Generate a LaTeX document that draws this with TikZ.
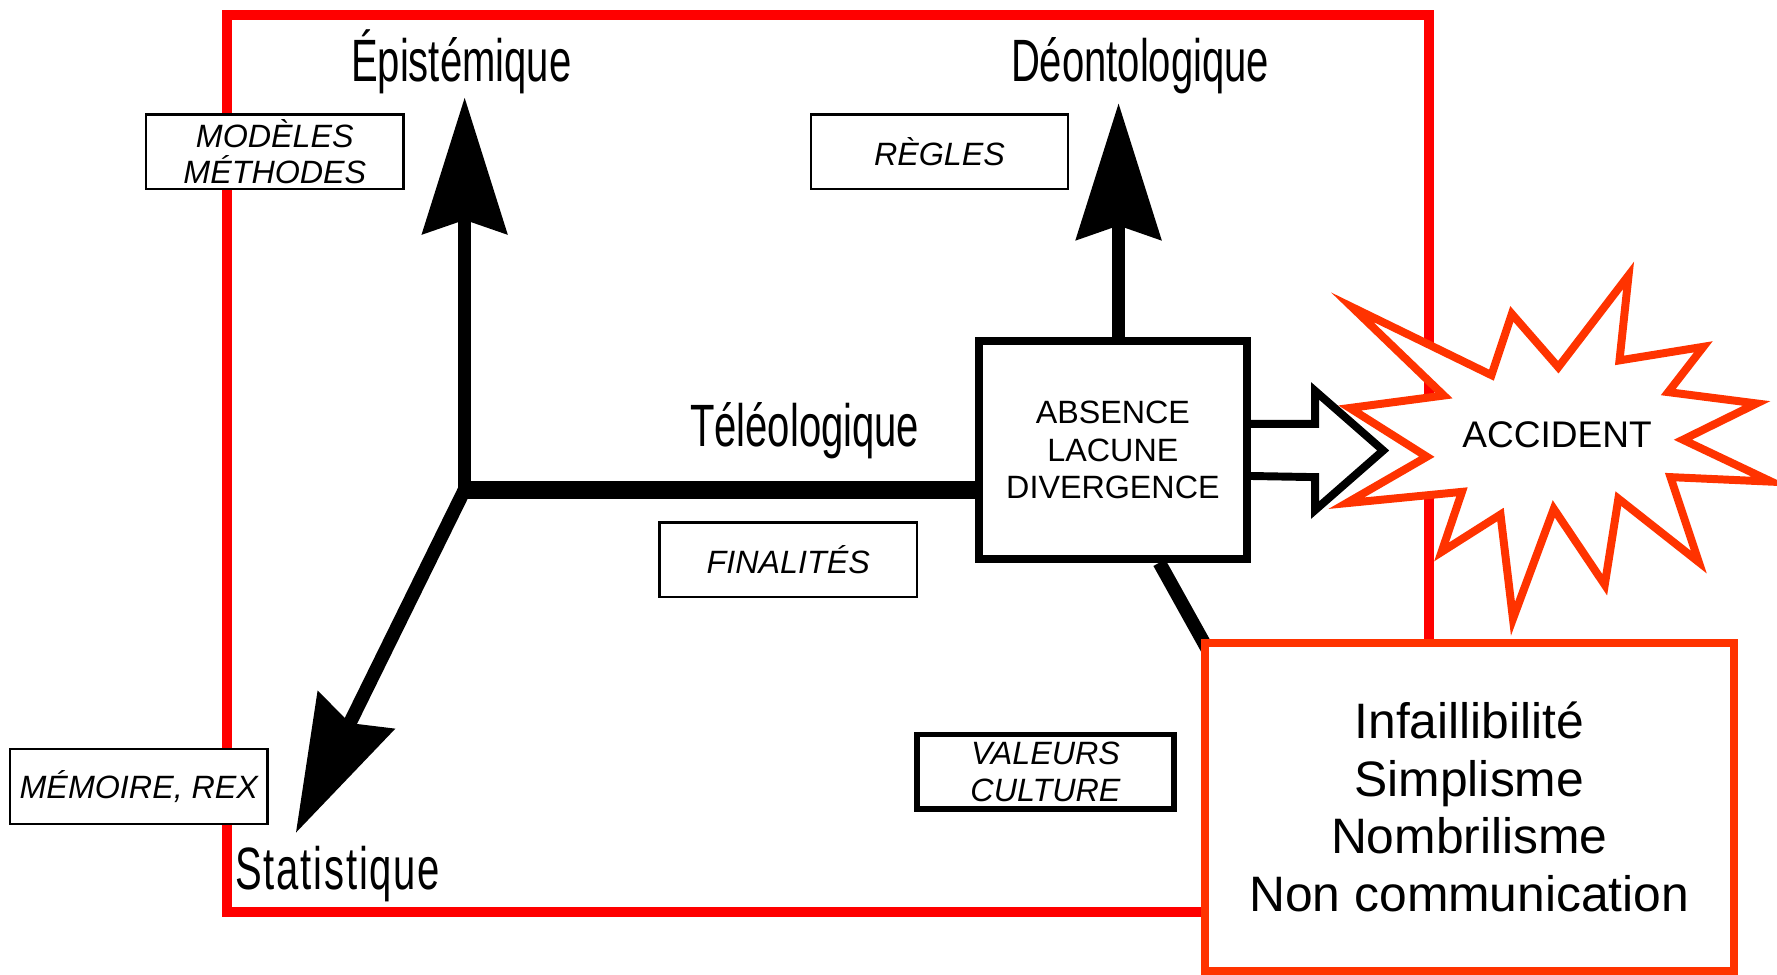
\documentclass[tikz,border=0pt]{standalone}
\usepackage{fontspec}
\setmainfont{Liberation Sans}
\newfontfamily\axisfont[FakeStretch=0.67]{Liberation Sans}
\usetikzlibrary{arrows.meta}
\definecolor{framered}{RGB}{255,0,0}
\definecolor{burst}{RGB}{255,51,0}
\begin{document}
\begin{tikzpicture}[
  axis/.style={line width=1.1mm},
  bigtip/.style={-{Stealth[length=12mm,width=7.4mm,inset=1.2mm]}},
  axislabel/.style={anchor=base,font=\axisfont\fontsize{15}{18}\selectfont},
  tag/.style={draw,fill=white,line width=.6pt,minimum width=2.27cm,minimum height=.66cm,inner sep=0pt,align=center,font=\itshape\fontsize{8.1}{9.1}\selectfont}]
\useasboundingbox(0,0)rectangle(15.68,-8.6);
\draw[framered,line width=.9mm](2,-.13)rectangle(12.61,-8.05);
\coordinate(o)at(4.1,-4.32);
\coordinate(epitip)at(4.1,-.86);
\coordinate(deotip)at(9.87,-.91);
\coordinate(stattip)at(2.61,-7.35);
\coordinate(valend)at(10.8,-5.99);
\node[draw,fill=white,line width=.7mm,minimum width=2.36cm,minimum height=1.92cm,align=center,font=\fontsize{8.1}{9.5}\selectfont](absence)at(9.82,-3.97){ABSENCE\\LACUNE\\DIVERGENCE};
\draw[axis,bigtip]([yshift=-.8mm]o)--(epitip);
\draw[axis,line width=1.2mm,bigtip](o)--(stattip);
\draw[axis,line width=1.6mm]([xshift=-.55mm]o)--(o-|absence.west);
\draw[axis,line width=1.2mm,bigtip](absence.north-|deotip)--(deotip);
\draw[axis,line width=1.2mm]([xshift=4.1mm]absence.south)--(valend);
\node[axislabel](epi)at(4.07,-.715){Épistémique};
\node[axislabel](deo)at(10.06,-.72){Déontologique};
\node[axislabel](teleo)at(7.1,-3.94){Téléologique};
\node[axislabel](stat)at(2.98,-7.85){\addfontfeature{LetterSpace=3}Statistique};
\node[tag](models)at(2.425,-1.34){MODÈLES\\MÉTHODES};
\node[tag](regles)at(8.29,-1.34){RÈGLES};
\node[tag](finalites)at(6.955,-4.94){FINALITÉS};
\node[tag](memoire)at(1.225,-6.94){MÉMOIRE, REX};
\node[tag,line width=.5mm](valeurs)at(9.225,-6.81){VALEURS\\CULTURE};
\draw[line width=.7mm]([yshift=2.3mm]absence.east)--++(.57,0)--++(0,.29)--++(.6,-.525)--++(-.6,-.525)--++(0,.29)--([yshift=-2.3mm]absence.east);
\draw[burst,line width=2pt,fill=white](11.93,-2.71)--(13.16,-3.31)--(13.34,-2.77)--(13.75,-3.24)--(14.37,-2.43)--(14.29,-3.18)--(15.03,-3.06)--(14.72,-3.46)--(15.5,-3.56)--(14.85,-3.88)--(15.63,-4.25)--(14.74,-4.21)--(14.99,-4.96)--(14.28,-4.4)--(14.16,-5.16)--(13.71,-4.49)--(13.35,-5.46)--(13.24,-4.54)--(12.72,-4.87)--(12.9,-4.34)--(11.88,-4.44)--(12.59,-4.03)--(11.91,-3.6)--(12.74,-3.49)--cycle;
\node[font=\fontsize{9.3}{11}\selectfont](accident)at(13.74,-3.835){ACCIDENT};
\node[draw=burst,line width=.7mm,fill=white,minimum width=4.67cm,minimum height=2.9cm,align=center,font=\fontsize{12.5}{14.4}\selectfont](traits)at(12.965,-7.12){Infaillibilité\\Simplisme\\Nombrilisme\\Non communication};
\end{tikzpicture}
\end{document}
